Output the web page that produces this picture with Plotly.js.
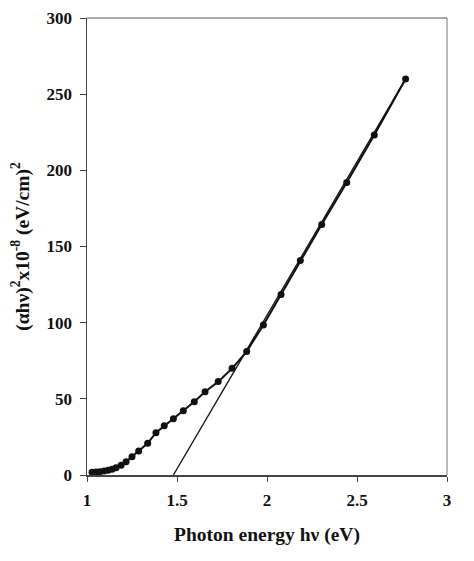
<!DOCTYPE html>
<html>
<head>
<meta charset="utf-8">
<script src="https://cdn.plot.ly/plotly-3.0.1.min.js"></script>
<style>
  html, body { margin: 0; padding: 0; background: #fff; }
  #plot { width: 474px; height: 561px; }
</style>
</head>
<body>
<div id="plot"></div>
<script>
// measured points: photon energy (eV) and (alpha h nu)^2 x 1e-8
//
const energy = [1.028, 1.05, 1.072, 1.094, 1.117, 1.139, 1.161, 1.189, 1.217, 1.25,
                1.287, 1.337, 1.383, 1.429, 1.48, 1.535, 1.596, 1.656, 1.729, 1.806,
                1.887, 1.98, 2.078, 2.185, 2.304, 2.443, 2.596, 2.77];
const absorb = [1.8, 2.0, 2.2, 2.6, 3.1, 3.7, 4.8, 6.4, 8.7, 12,
                15.8, 20.8, 27.8, 32.3, 36.9, 42.1, 48.1, 54.7, 61.3, 70,
                81, 98.5, 118.5, 140.8, 164.5, 192, 223.2, 260];

// linear extrapolation of the straight part down to the energy axis
//
const fitX = [1.48, 2.77];
const fitY = [0, 260];

const xTicks = [1, 1.5, 2, 2.5, 3];
const yTicks = [0, 50, 100, 150, 200, 250, 300];

const serif = 'Liberation Serif, Times New Roman, serif';

const traces = [
  {
    x: fitX,
    y: fitY,
    mode: 'lines',
    type: 'scatter',
    line: { color: '#111', width: 1.3 },
    hoverinfo: 'none'
  },
  {
    x: energy,
    y: absorb,
    mode: 'lines+markers',
    type: 'scatter',
    line: { color: '#111', width: 2 },
    marker: { symbol: 'circle', size: 7, color: '#111' },
    hoverinfo: 'none'
  }
];

const layout = {
  width: 474,
  height: 561,
  showlegend: false,
  paper_bgcolor: '#fff',
  plot_bgcolor: '#fff',
  margin: { l: 87, r: 27, t: 18, b: 86 },
  font: { family: serif, color: '#111' },
  xaxis: {
    range: [1, 3],
    tickvals: xTicks,
    ticktext: xTicks.map(String),
    ticks: 'outside',
    ticklen: 5,
    tickcolor: '#444',
    ticklabelstandoff: 4,
    showgrid: false,
    zeroline: false,
    showline: true,
    linecolor: '#444',
    linewidth: 1.5,
    tickfont: { family: serif, size: 17, color: '#111', weight: 'bold' },
    title: {
      text: '<b>Photon energy hν (eV)</b>',
      font: { family: serif, size: 19.5, color: '#111' },
      standoff: 18
    }
  },
  yaxis: {
    range: [0, 300],
    tickvals: yTicks,
    ticktext: yTicks.map(String),
    ticks: 'outside',
    ticklen: 6,
    tickcolor: '#444',
    ticklabelstandoff: 4,
    showgrid: false,
    zeroline: false,
    showline: true,
    linecolor: '#444',
    linewidth: 1.5,
    tickfont: { family: serif, size: 17, color: '#111', weight: 'bold' },
    title: {
      text: '<b>(αhν)<sup>2</sup>x10<sup>-8</sup> (eV/cm)<sup>2</sup></b>',
      font: { family: serif, size: 19.5, color: '#111' },
      standoff: 12
    }
  },
  shapes: [
    // thin frame on the top and right sides
    { type: 'line', xref: 'paper', yref: 'paper', x0: 0, x1: 1, y0: 1, y1: 1,
      line: { color: '#555', width: 1 } },
    { type: 'line', xref: 'paper', yref: 'paper', x0: 1, x1: 1, y0: 0, y1: 1,
      line: { color: '#777', width: 1 } }
  ]
};

Plotly.newPlot('plot', traces, layout, { displayModeBar: false, staticPlot: true });
</script>
</body>
</html>
